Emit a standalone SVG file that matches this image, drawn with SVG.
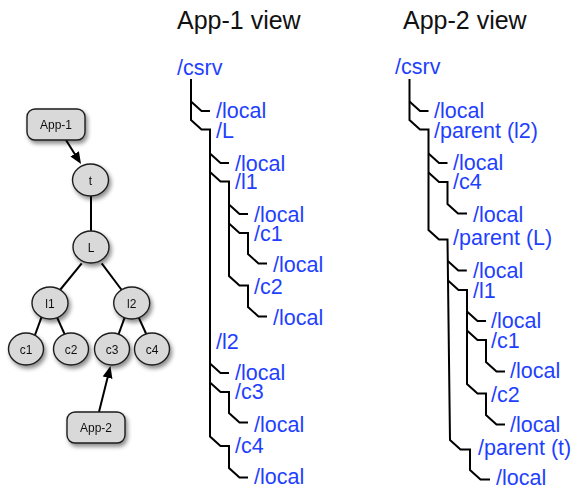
<svg xmlns="http://www.w3.org/2000/svg" width="574" height="490" viewBox="0 0 574 490">
  <style>
    .node { fill: #d9d9d9; stroke: #1e1e1e; stroke-width: 1.4; }
    .nlabel { font-family: "Liberation Sans", Arial, sans-serif; font-size: 12px; fill: #111; text-anchor: middle; }
    .edge { stroke: #000; stroke-width: 2; fill: none; }
    .tree { stroke: #000; stroke-width: 2; fill: none; stroke-linejoin: miter; }
    .title { font-family: "Liberation Sans", Arial, sans-serif; font-size: 25px; fill: #111; }
    .path { font-family: "Liberation Sans", Arial, sans-serif; font-size: 21.5px; fill: #1f3fff; }
  </style>
  <defs>
    <filter id="shadow" x="-30%" y="-30%" width="170%" height="180%">
      <feDropShadow dx="2" dy="3" stdDeviation="2" flood-color="#000" flood-opacity="0.45"/>
    </filter>
    <marker id="arrow" markerUnits="userSpaceOnUse" markerWidth="13" markerHeight="11" refX="1" refY="5" orient="auto">
      <path d="M0,0 L12,5 L0,10 z" fill="#000"/>
    </marker>
  </defs>

  <rect width="574" height="490" fill="#fff"/>

  <!-- namespace graph: edges -->
  <g id="graph-edges">
    <path class="edge" d="M91,196 V231"/>
    <path class="edge" d="M81.7,263.3 L60,290"/>
    <path class="edge" d="M101.7,263.3 L121.7,290"/>
    <path class="edge" d="M41.7,316.7 L35,335"/>
    <path class="edge" d="M56.7,316.7 L65,335"/>
    <path class="edge" d="M125,316.7 L118.3,335"/>
    <path class="edge" d="M138.3,316.7 L146.7,335"/>
    <path class="edge" d="M66,140 L75.2,154.7" marker-end="url(#arrow)"/>
    <path class="edge" d="M99,412 L107.8,376.7" marker-end="url(#arrow)"/>
  </g>

  <!-- namespace graph: nodes -->
  <g id="node-app1" filter="url(#shadow)">
    <rect class="node" x="27" y="109" width="58" height="31" rx="8"/>
    <text class="nlabel" x="56" y="128.5">App-1</text>
  </g>
  <g id="node-t" filter="url(#shadow)">
    <ellipse class="node" cx="90.5" cy="180" rx="18" ry="16"/>
    <text class="nlabel" x="90.5" y="184.5">t</text>
  </g>
  <g id="node-L" filter="url(#shadow)">
    <ellipse class="node" cx="91" cy="247" rx="18" ry="16"/>
    <text class="nlabel" x="91" y="251.5">L</text>
  </g>
  <g id="node-l1" filter="url(#shadow)">
    <ellipse class="node" cx="50" cy="303" rx="18" ry="16"/>
    <text class="nlabel" x="50" y="307.5">l1</text>
  </g>
  <g id="node-l2" filter="url(#shadow)">
    <ellipse class="node" cx="131.7" cy="303" rx="18" ry="16"/>
    <text class="nlabel" x="131.7" y="307.5">l2</text>
  </g>
  <g id="node-c1" filter="url(#shadow)">
    <ellipse class="node" cx="26" cy="349" rx="17.5" ry="16"/>
    <text class="nlabel" x="26" y="353.5">c1</text>
  </g>
  <g id="node-c2" filter="url(#shadow)">
    <ellipse class="node" cx="71" cy="349" rx="17.5" ry="16"/>
    <text class="nlabel" x="71" y="353.5">c2</text>
  </g>
  <g id="node-c3" filter="url(#shadow)">
    <ellipse class="node" cx="112" cy="349" rx="17.5" ry="16"/>
    <text class="nlabel" x="112" y="353.5">c3</text>
  </g>
  <g id="node-c4" filter="url(#shadow)">
    <ellipse class="node" cx="152" cy="349" rx="17.5" ry="16"/>
    <text class="nlabel" x="152" y="353.5">c4</text>
  </g>
  <g id="node-app2" filter="url(#shadow)">
    <rect class="node" x="67" y="412" width="58" height="31" rx="8"/>
    <text class="nlabel" x="96" y="431.5">App-2</text>
  </g>

  <!-- App-1 view -->
  <g id="app1-view">
    <text class="title" x="177" y="29">App-1 view</text>
    <g id="app1-tree-lines">
      <path class="tree" d="M191,79 V120 L201.5,129.5 H210 V436.5 L220.5,446 H229 V468 L239.5,477.5 H248"/>
      <path class="tree" d="M191,101.5 L201.5,111 H210"/>
      <path class="tree" d="M210,153.5 L220.5,163 H229"/>
      <path class="tree" d="M210,172 L220.5,181.5 H229 V276 L239.5,285.5 H248 V307 L258.5,316.5 H267"/>
      <path class="tree" d="M229,204.5 L239.5,214 H248"/>
      <path class="tree" d="M229,223.5 L239.5,233 H248 V254 L258.5,263.5 H267"/>
      <path class="tree" d="M210,363.5 L220.5,373 H229"/>
      <path class="tree" d="M210,382.5 L220.5,392 H229 V413 L239.5,422.5 H248"/>
    </g>
    <text class="path" x="177" y="75">/csrv</text>
    <text class="path" x="216" y="118">/local</text>
    <text class="path" x="216" y="138">/L</text>
    <text class="path" x="235" y="171">/local</text>
    <text class="path" x="235" y="189">/l1</text>
    <text class="path" x="254" y="222">/local</text>
    <text class="path" x="254" y="241">/c1</text>
    <text class="path" x="273" y="272">/local</text>
    <text class="path" x="254" y="294">/c2</text>
    <text class="path" x="273" y="325">/local</text>
    <text class="path" x="216" y="349">/l2</text>
    <text class="path" x="235" y="380">/local</text>
    <text class="path" x="235" y="399">/c3</text>
    <text class="path" x="254" y="432">/local</text>
    <text class="path" x="235" y="453">/c4</text>
    <text class="path" x="254" y="484">/local</text>
  </g>

  <!-- App-2 view -->
  <g id="app2-view">
    <text class="title" x="403" y="29">App-2 view</text>
    <g id="app2-tree-lines">
      <path class="tree" d="M409.5,79 V120 L420,129.5 H428.5 V230 L439,239.5 H447.5 L450,440 L460.5,449.5 H470 V470 L480.5,479.5 H490"/>
      <path class="tree" d="M409.5,101.5 L420,111 H428.5"/>
      <path class="tree" d="M428.5,153.5 L439,163 H447.5"/>
      <path class="tree" d="M428.5,172.5 L439,182 H447.5 V204 L458,213.5 H467"/>
      <path class="tree" d="M447.8,261 L458.3,270.5 H466.8"/>
      <path class="tree" d="M448,280.5 L458.5,290 H467 V384 L477.5,393.5 H486 V415 L496.5,424.5 H505"/>
      <path class="tree" d="M467,311.5 L477.5,321 H486"/>
      <path class="tree" d="M467,330.5 L477.5,340 H486 V362 L496.5,371.5 H505"/>
    </g>
    <text class="path" x="395" y="74">/csrv</text>
    <text class="path" x="434" y="118">/local</text>
    <text class="path" x="434" y="138">/parent (l2)</text>
    <text class="path" x="453" y="170">/local</text>
    <text class="path" x="453" y="189">/c4</text>
    <text class="path" x="473" y="222">/local</text>
    <text class="path" x="453" y="245">/parent (L)</text>
    <text class="path" x="473" y="278">/local</text>
    <text class="path" x="473" y="298">/l1</text>
    <text class="path" x="491" y="328">/local</text>
    <text class="path" x="491" y="348">/c1</text>
    <text class="path" x="510" y="378">/local</text>
    <text class="path" x="491" y="402">/c2</text>
    <text class="path" x="510" y="432">/local</text>
    <text class="path" x="478" y="455">/parent (t)</text>
    <text class="path" x="496" y="485">/local</text>
  </g>
</svg>
